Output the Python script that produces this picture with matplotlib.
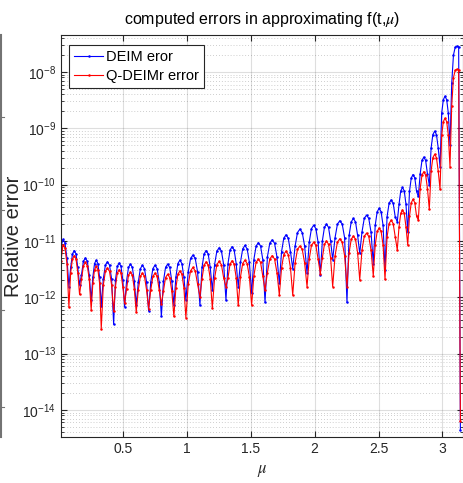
import numpy as np
import matplotlib
matplotlib.use("Agg")
import matplotlib.pyplot as plt
from matplotlib.lines import Line2D
from matplotlib.ticker import FixedLocator, LogLocator, NullFormatter

plt.rcParams['font.family'] = ['Liberation Sans', 'DejaVu Sans']
plt.rcParams['mathtext.fontset'] = 'stix'

# dip locations of the oscillation (mu)
mu_start = 0.0126
dip_mu = [0.0745, 0.158, 0.249, 0.328, 0.425, 0.511, 0.602, 0.699, 0.799,
          0.897, 0.991, 1.101, 1.198, 1.305, 1.401, 1.506, 1.611, 1.723,
          1.828, 1.940, 2.044, 2.141, 2.253, 2.353, 2.459, 2.551, 2.647,
          2.729, 2.812, 2.898, 2.982, 3.060, 3.1416]

# log10 of the errors: 4 leading points, then 6 points per arch, then the last one
deim_log = [
    -11.10, -10.97, -11.03, -11.30,
    -11.81, -11.47, -11.23, -11.17, -11.23, -11.47,
    -11.78, -11.60, -11.36, -11.30, -11.36, -11.60,
    -12.05, -11.64, -11.40, -11.34, -11.40, -11.64,
    -12.15, -11.67, -11.43, -11.37, -11.43, -11.67,
    -12.48, -11.69, -11.45, -11.39, -11.45, -11.69,
    -12.17, -11.71, -11.47, -11.41, -11.47, -11.71,
    -12.14, -11.73, -11.49, -11.43, -11.49, -11.73,
    -12.24, -11.73, -11.49, -11.43, -11.49, -11.73,
    -12.34, -11.71, -11.47, -11.41, -11.47, -11.71,
    -12.14, -11.64, -11.40, -11.34, -11.40, -11.64,
    -12.05, -11.55, -11.31, -11.25, -11.31, -11.55,
    -12.14, -11.47, -11.23, -11.17, -11.23, -11.47,
    -11.87, -11.42, -11.18, -11.12, -11.18, -11.42,
    -12.05, -11.40, -11.16, -11.10, -11.16, -11.40,
    -11.81, -11.38, -11.14, -11.08, -11.14, -11.38,
    -11.93, -11.33, -11.09, -11.03, -11.09, -11.33,
    -12.09, -11.28, -11.04, -10.98, -11.04, -11.28,
    -11.75, -11.19, -10.95, -10.89, -10.95, -11.19,
    -11.49, -11.09, -10.85, -10.79, -10.85, -11.09,
    -11.57, -11.02, -10.78, -10.72, -10.78, -11.02,
    -11.60, -11.00, -10.76, -10.70, -10.76, -11.00,
    -11.33, -10.94, -10.70, -10.64, -10.70, -10.94,
    -12.09, -10.90, -10.66, -10.60, -10.66, -10.90,
    -11.22, -10.84, -10.60, -10.54, -10.60, -10.84,
    -11.40, -10.72, -10.48, -10.42, -10.48, -10.72,
    -11.51, -10.57, -10.33, -10.27, -10.33, -10.57,
    -10.66, -10.35, -10.11, -10.05, -10.11, -10.35,
    -10.84, -10.12, -9.88, -9.82, -9.88, -10.12,
    -10.21, -9.81, -9.57, -9.51, -9.57, -9.81,
    -10.01, -9.35, -9.11, -9.05, -9.11, -9.35,
    -9.68, -8.73, -8.49, -8.43, -8.49, -8.73,
    -9.30, -8.20, -7.70, -7.56, -7.54, -7.55,
    -14.36,
]

qdeim_log = [
    -11.35, -11.07, -11.12, -11.40,
    -12.17, -11.56, -11.32, -11.26, -11.32, -11.56,
    -11.95, -11.68, -11.44, -11.38, -11.44, -11.68,
    -12.22, -11.75, -11.51, -11.45, -11.51, -11.75,
    -12.56, -11.78, -11.54, -11.48, -11.54, -11.78,
    -12.25, -11.81, -11.57, -11.51, -11.57, -11.81,
    -12.10, -11.85, -11.61, -11.55, -11.61, -11.85,
    -12.26, -11.87, -11.63, -11.57, -11.63, -11.87,
    -12.20, -11.87, -11.63, -11.57, -11.63, -11.87,
    -12.12, -11.89, -11.65, -11.59, -11.65, -11.89,
    -12.34, -11.83, -11.59, -11.53, -11.59, -11.83,
    -12.36, -11.77, -11.53, -11.47, -11.53, -11.77,
    -11.99, -11.67, -11.43, -11.37, -11.43, -11.67,
    -12.19, -11.66, -11.42, -11.36, -11.42, -11.66,
    -11.81, -11.65, -11.41, -11.35, -11.41, -11.65,
    -12.14, -11.64, -11.40, -11.34, -11.40, -11.64,
    -12.14, -11.62, -11.38, -11.32, -11.38, -11.62,
    -11.87, -11.56, -11.32, -11.26, -11.32, -11.56,
    -11.96, -11.48, -11.24, -11.18, -11.24, -11.48,
    -11.96, -11.39, -11.15, -11.09, -11.15, -11.39,
    -11.81, -11.32, -11.08, -11.02, -11.08, -11.32,
    -11.58, -11.30, -11.06, -11.00, -11.06, -11.30,
    -11.81, -11.26, -11.02, -10.96, -11.02, -11.26,
    -11.81, -11.21, -10.97, -10.91, -10.97, -11.21,
    -11.69, -11.16, -10.92, -10.86, -10.92, -11.16,
    -11.62, -11.07, -10.83, -10.77, -10.83, -11.07,
    -11.68, -10.93, -10.69, -10.63, -10.69, -10.93,
    -11.16, -10.75, -10.51, -10.45, -10.51, -10.75,
    -11.07, -10.56, -10.32, -10.26, -10.32, -10.56,
    -10.63, -10.07, -9.83, -9.77, -9.83, -10.07,
    -10.44, -9.76, -9.52, -9.46, -9.52, -9.76,
    -10.08, -9.12, -8.88, -8.82, -8.88, -9.12,
    -9.68, -8.60, -8.10, -7.97, -7.95, -7.96,
    -14.20,
]

xticks = [0.5, 1, 1.5, 2, 2.5, 3]
xticklabels = ['0.5', '1', '1.5', '2', '2.5', '3']
yticks = [1e-14, 1e-13, 1e-12, 1e-11, 1e-10, 1e-9, 1e-8]

# sample grid: 4 points before the first dip, 6 per arch, plus the end point
mu = list(np.linspace(mu_start, dip_mu[0], 5)[:-1])
for i in range(len(dip_mu) - 1):
    mu += list(np.linspace(dip_mu[i], dip_mu[i + 1], 7)[:-1])
mu.append(dip_mu[-1])
mu = np.array(mu)

deim = 10.0 ** np.array(deim_log)
qdeim = 10.0 ** np.array(qdeim_log)

dark = (0.15, 0.15, 0.15)

fig = plt.figure(figsize=(4.63, 4.83), dpi=100)
ax = fig.add_axes([61 / 463, 46 / 483, 402 / 463, 402 / 483])

ax.semilogy(mu, deim, color='blue', lw=0.8, marker='.', ms=1.6, label='DEIM eror')
ax.semilogy(mu, qdeim, color='red', lw=0.8, marker='.', ms=1.6, label='Q-DEIMr error')

ax.set_xlim(mu_start, 3.162)
ax.set_ylim(10 ** -14.48, 10 ** -7.343)
ax.set_xticks(xticks)
ax.set_xticklabels(xticklabels)
ax.yaxis.set_major_locator(FixedLocator(yticks))
ax.yaxis.set_minor_locator(LogLocator(base=10, subs=np.arange(2, 10), numticks=20))
ax.yaxis.set_minor_formatter(NullFormatter())

ax.grid(True, which='major', color=dark, alpha=0.15, lw=0.8)
ax.grid(True, which='minor', axis='y', color=dark, alpha=0.3, lw=0.6, ls=(0, (1, 2.5)))
ax.set_axisbelow(True)

ax.tick_params(which='both', direction='in', top=True, right=True, colors=dark,
               labelsize=10)
ax.tick_params(which='major', length=4)
ax.tick_params(which='minor', length=2)
for s in ax.spines.values():
    s.set_color(dark)
    s.set_linewidth(0.8)

ax.set_title('computed errors in approximating f(t,$\\mu$)', fontsize=11.5,
             color='black', pad=8)
ax.set_xlabel('$\\mu$', fontsize=12, color=dark, labelpad=5)
ax.set_ylabel('Relative error', fontsize=14.5, color=dark)
ax.yaxis.set_label_coords(-0.094, 0.5)

leg = ax.legend(loc='upper left', bbox_to_anchor=(0.02, 0.975), borderaxespad=0,
                fontsize=10.5, fancybox=False, framealpha=1, edgecolor=dark,
                handlelength=2.0, handletextpad=0.2, labelspacing=0.35,
                borderpad=0.35)
leg.get_frame().set_linewidth(0.8)

# right spine of the neighbouring panel, cut by the image edge
fig.add_artist(Line2D([0.5 / 463, 0.5 / 463], [46 / 483, 448 / 483],
                      color=(0.45, 0.45, 0.45), lw=1.5))
for ty in [117, 210, 310, 407]:
    yy = (483 - ty) / 483
    fig.add_artist(Line2D([0, 4 / 463], [yy, yy], color=(0.45, 0.45, 0.45), lw=0.8))

fig.savefig('out.png', dpi=100)
